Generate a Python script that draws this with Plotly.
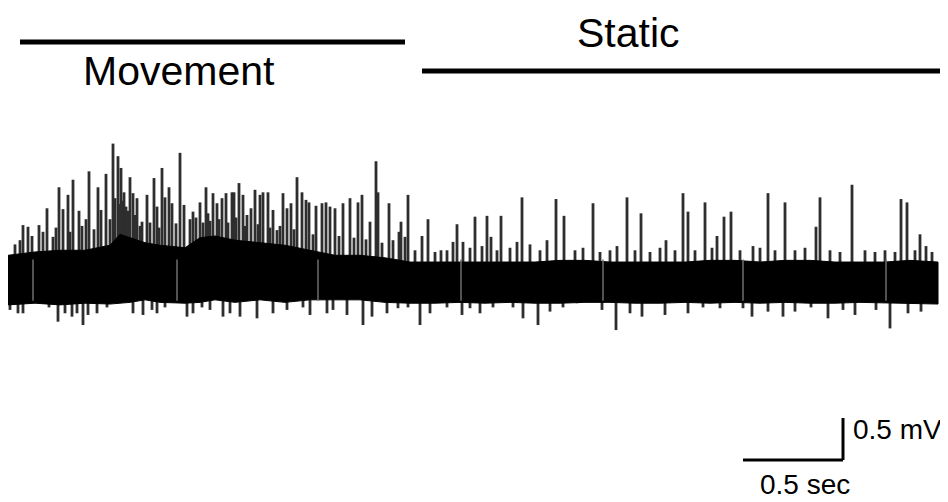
import plotly.graph_objects as go

# ---- data (time in s, voltage in mV) ----
# envelope of the dense background activity
env_t = [-0.01, 0.125, 0.25, 0.375, 0.5, 0.55, 0.6, 0.675, 0.75, 0.875, 0.95, 1.025, 1.125, 1.25,
         1.375, 1.5, 1.625, 1.75, 1.875, 2.0, 2.125, 2.25, 2.375, 2.5, 2.625, 2.75, 2.875, 3.0,
         3.125, 3.25, 3.375, 3.5, 3.625, 3.75, 3.875, 4.0, 4.125, 4.25, 4.375, 4.5, 4.64]
env_top = [0.27, 0.31, 0.33, 0.33, 0.39, 0.52, 0.48, 0.42, 0.39, 0.36, 0.48, 0.50, 0.45, 0.42,
           0.39, 0.33, 0.27, 0.27, 0.24, 0.19, 0.19, 0.19, 0.19, 0.19, 0.19, 0.21, 0.21, 0.19,
           0.19, 0.19, 0.19, 0.21, 0.21, 0.19, 0.21, 0.21, 0.19, 0.19, 0.19, 0.21, 0.19]
env_bot = [-0.32, -0.30, -0.32, -0.30, -0.31, -0.30, -0.29, -0.26, -0.29, -0.30, -0.29, -0.26,
           -0.29, -0.26, -0.29, -0.26, -0.26, -0.26, -0.29, -0.30, -0.30, -0.29, -0.30, -0.29,
           -0.30, -0.30, -0.29, -0.29, -0.30, -0.30, -0.29, -0.30, -0.29, -0.30, -0.29, -0.30,
           -0.30, -0.29, -0.30, -0.30, -0.31]

# upward spikes (time, peak)
up_t = [0.065, 0.090, 0.145, 0.185, 0.215, 0.245, 0.265, 0.290, 0.315, 0.345, 0.380, 0.395,
        0.440, 0.455, 0.480, 0.515, 0.540, 0.555, 0.570, 0.600, 0.615, 0.635, 0.660, 0.685,
        0.720, 0.735, 0.760, 0.775, 0.795, 0.810, 0.850, 0.870, 0.915, 0.950, 0.980, 0.990,
        1.015, 1.035, 1.060, 1.080, 1.110, 1.120, 1.145, 1.165, 1.185, 1.205, 1.225, 1.250,
        1.265, 1.290, 1.315, 1.335, 1.365, 1.385, 1.405, 1.435, 1.460, 1.480, 1.495, 1.530,
        1.560, 1.580, 1.600, 1.625, 1.665, 1.700, 1.740, 1.760, 1.800, 1.830, 1.840,
        1.895, 1.915, 1.945, 1.955, 1.975, 1.990, 2.025, 2.060, 2.090, 2.125, 2.155, 2.185,
        2.215, 2.235, 2.265, 2.300, 2.325, 2.360, 2.385, 2.405, 2.435, 2.455, 2.500, 2.535,
        2.560, 2.600, 2.650, 2.685, 2.730, 2.770, 2.825, 2.865, 2.915, 2.950, 3.000, 3.035,
        3.085, 3.125, 3.155, 3.200, 3.250, 3.280, 3.325, 3.365, 3.390, 3.425, 3.475, 3.510,
        3.535, 3.570, 3.605, 3.650, 3.715, 3.750, 3.790, 3.825, 3.875, 3.925, 3.975, 4.030,
        4.050, 4.100, 4.150, 4.210, 4.275, 4.325, 4.375, 4.425, 4.455, 4.485, 4.525, 4.550,
        4.580, 4.610,
        # dense burst spikes in the movement epoch
        0.025, 0.050, 0.110, 0.165, 0.230, 0.300, 0.360, 0.420, 0.500, 0.525, 0.548, 0.562,
        0.580, 0.590, 0.625, 0.650, 0.700, 0.745, 0.830, 0.900, 0.930, 0.965, 1.000, 1.045,
        1.090, 1.130, 1.175, 1.240, 1.300, 1.350, 1.420, 1.515, 1.645, 1.720, 1.780, 1.860]
up_v = [0.63, 0.61, 0.63, 0.83, 0.49, 1.08, 0.82, 0.99, 1.17, 0.80, 0.70, 1.27,
        1.08, 0.81, 1.24, 1.60, 1.45, 1.31, 1.02, 1.20, 1.01, 0.95, 0.67, 0.99,
        1.19, 0.85, 1.31, 0.96, 1.08, 0.89, 1.49, 0.87, 0.79, 0.90, 1.08, 0.77,
        1.01, 0.89, 0.95, 1.01, 1.02, 1.02, 1.13, 0.99, 0.75, 0.83, 1.05, 0.99,
        1.02, 1.02, 0.81, 0.57, 1.01, 0.83, 0.89, 1.20, 1.02, 0.93, 0.90, 0.86,
        0.89, 0.90, 0.85, 0.83, 0.89, 0.95, 0.90, 0.99, 0.67, 1.39, 1.02,
        0.89, 0.45, 0.55, 0.67, 0.49, 0.99, 0.33, 0.50, 0.70, 0.31, 0.33, 0.33,
        0.43, 0.64, 0.43, 0.36, 0.73, 0.38, 0.74, 0.49, 0.33, 0.74, 0.36, 0.43,
        0.96, 0.40, 0.33, 0.45, 0.94, 0.74, 0.33, 0.36, 0.89, 0.31, 0.33, 0.38,
        0.96, 0.33, 0.77, 0.31, 0.36, 0.45, 0.33, 1.01, 0.79, 0.33, 0.90, 0.36,
        0.50, 0.73, 0.79, 0.33, 0.38, 0.36, 1.01, 0.33, 0.90, 0.33, 0.36, 0.61,
        0.96, 0.33, 0.31, 1.11, 0.33, 0.31, 0.33, 0.31, 0.94, 0.90, 0.33, 0.52,
        0.38, 0.31,
        0.40, 0.45, 0.50, 0.55, 0.60, 0.55, 0.62, 0.58, 0.70, 0.95, 0.88, 0.92,
        0.85, 0.80, 0.75, 0.62, 0.66, 0.60, 0.65, 0.70, 0.72, 0.66, 0.68, 0.70,
        0.66, 0.72, 0.62, 0.64, 0.60, 0.62, 0.58, 0.52, 0.50, 0.48, 0.46, 0.42]

# downward spikes (time, trough)
down_t = [0.0, 0.04, 0.065, 0.195, 0.24, 0.275, 0.31, 0.335, 0.365, 0.39, 0.435, 0.485, 0.615,
          0.665, 0.71, 0.735, 0.775, 0.885, 0.915, 0.96, 1.0, 1.065, 1.10, 1.15, 1.235, 1.315,
          1.385, 1.465, 1.50, 1.585, 1.615, 1.685, 1.765, 1.81, 1.885, 1.94, 1.99, 2.05, 2.10,
          2.185, 2.26, 2.30, 2.35, 2.415, 2.515, 2.565, 2.64, 2.70, 2.765, 2.835, 2.96, 3.03,
          3.10, 3.16, 3.275, 3.39, 3.465, 3.55, 3.665, 3.71, 3.79, 3.865, 3.925, 4.005, 4.09,
          4.165, 4.225, 4.33, 4.40, 4.49, 4.555]
down_v = [-0.38, -0.42, -0.42, -0.35, -0.52, -0.42, -0.46, -0.42, -0.56, -0.44, -0.42, -0.35,
          -0.42, -0.44, -0.38, -0.42, -0.35, -0.46, -0.42, -0.35, -0.38, -0.46, -0.42, -0.46,
          -0.48, -0.42, -0.38, -0.35, -0.44, -0.42, -0.38, -0.44, -0.56, -0.46, -0.42, -0.36,
          -0.35, -0.56, -0.42, -0.35, -0.44, -0.36, -0.42, -0.35, -0.35, -0.48, -0.56, -0.40,
          -0.35, -0.30, -0.38, -0.62, -0.42, -0.46, -0.44, -0.42, -0.35, -0.36, -0.36, -0.46,
          -0.40, -0.46, -0.40, -0.35, -0.48, -0.38, -0.44, -0.38, -0.60, -0.42, -0.40]

# recording segment boundaries
gap_t = [0.115, 0.835, 1.54, 2.255, 2.965, 3.665, 4.38]

# epochs and scale bar
epoch_labels = ["Movement", "Static"]
epoch_start = [0.05, 2.06]
epoch_end = [1.975, 4.68]
epoch_level = [2.81, 2.464]
scale_t = 0.5   # s
scale_v = 0.5   # mV
scale_x0 = 3.665
scale_y0 = -2.167

# ---- figure (page body has an 8 px margin, so the figure is 940x494) ----
X_RANGE = [-0.01, 4.69]
Y_RANGE = [-2.6667, 3.2143]

fig = go.Figure()

def seg(ts, vs, base=0.0):
    xs, ys = [], []
    for t, v in zip(ts, vs):
        xs += [t, t, None]
        ys += [base, v, None]
    return xs, ys

dx, dy = seg(down_t, down_v)
fig.add_trace(go.Scatter(x=dx, y=dy, mode="lines", line=dict(color="#2e2e2e", width=2.8),
                         hoverinfo="skip", showlegend=False))
ux, uy = seg(up_t, up_v)
fig.add_trace(go.Scatter(x=ux, y=uy, mode="lines", line=dict(color="#2e2e2e", width=2.8),
                         hoverinfo="skip", showlegend=False))

# dense background band (drawn over the spike bases)
band_x = env_t + env_t[::-1]
band_y = env_top + env_bot[::-1]
fig.add_trace(go.Scatter(x=band_x, y=band_y, fill="toself", fillcolor="black",
                         mode="lines", line=dict(color="black", width=1),
                         hoverinfo="skip", showlegend=False))

gx, gy = [], []
for t in gap_t:
    gx += [t, t, None]
    gy += [-0.27, 0.22, None]
fig.add_trace(go.Scatter(x=gx, y=gy, mode="lines", line=dict(color="#6e6e6e", width=1.5),
                         hoverinfo="skip", showlegend=False))

# epoch bars
for s, e, lv in zip(epoch_start, epoch_end, epoch_level):
    fig.add_shape(type="line", x0=s, x1=e, y0=lv, y1=lv, xref="x", yref="y",
                  line=dict(color="black", width=5))

font = dict(family="Liberation Sans, Arial, sans-serif", color="black")
fig.add_annotation(x=0.845, y=epoch_level[0] - 0.34,
                   text=epoch_labels[0], showarrow=False, font=dict(size=41, **font),
                   xanchor="center", yanchor="middle")
fig.add_annotation(x=3.09, y=epoch_level[1] + 0.45, text=epoch_labels[1], showarrow=False,
                   font=dict(size=41, **font), xanchor="center", yanchor="middle")

# scale bar
fig.add_shape(type="line", x0=scale_x0, x1=scale_x0 + scale_t, y0=scale_y0, y1=scale_y0,
              line=dict(color="black", width=3))
fig.add_shape(type="line", x0=scale_x0 + scale_t, x1=scale_x0 + scale_t,
              y0=scale_y0, y1=scale_y0 + scale_v, line=dict(color="black", width=3))
fig.add_annotation(x=scale_x0 + scale_t + 0.04, y=scale_y0 + scale_v * 0.72,
                   text=f"{scale_v} mV", showarrow=False, font=dict(size=28, **font),
                   xanchor="left", yanchor="middle")
fig.add_annotation(x=scale_x0 + scale_t / 2 + 0.06, y=scale_y0 - 0.29,
                   text=f"{scale_t} sec", showarrow=False, font=dict(size=28, **font),
                   xanchor="center", yanchor="middle")

fig.update_xaxes(range=X_RANGE, visible=False, showgrid=False, zeroline=False)
fig.update_yaxes(range=Y_RANGE, visible=False, showgrid=False, zeroline=False)
fig.update_layout(width=940, height=494, margin=dict(l=0, r=0, t=0, b=0),
                  paper_bgcolor="white", plot_bgcolor="white", showlegend=False)

fig.write_html("out.html")
